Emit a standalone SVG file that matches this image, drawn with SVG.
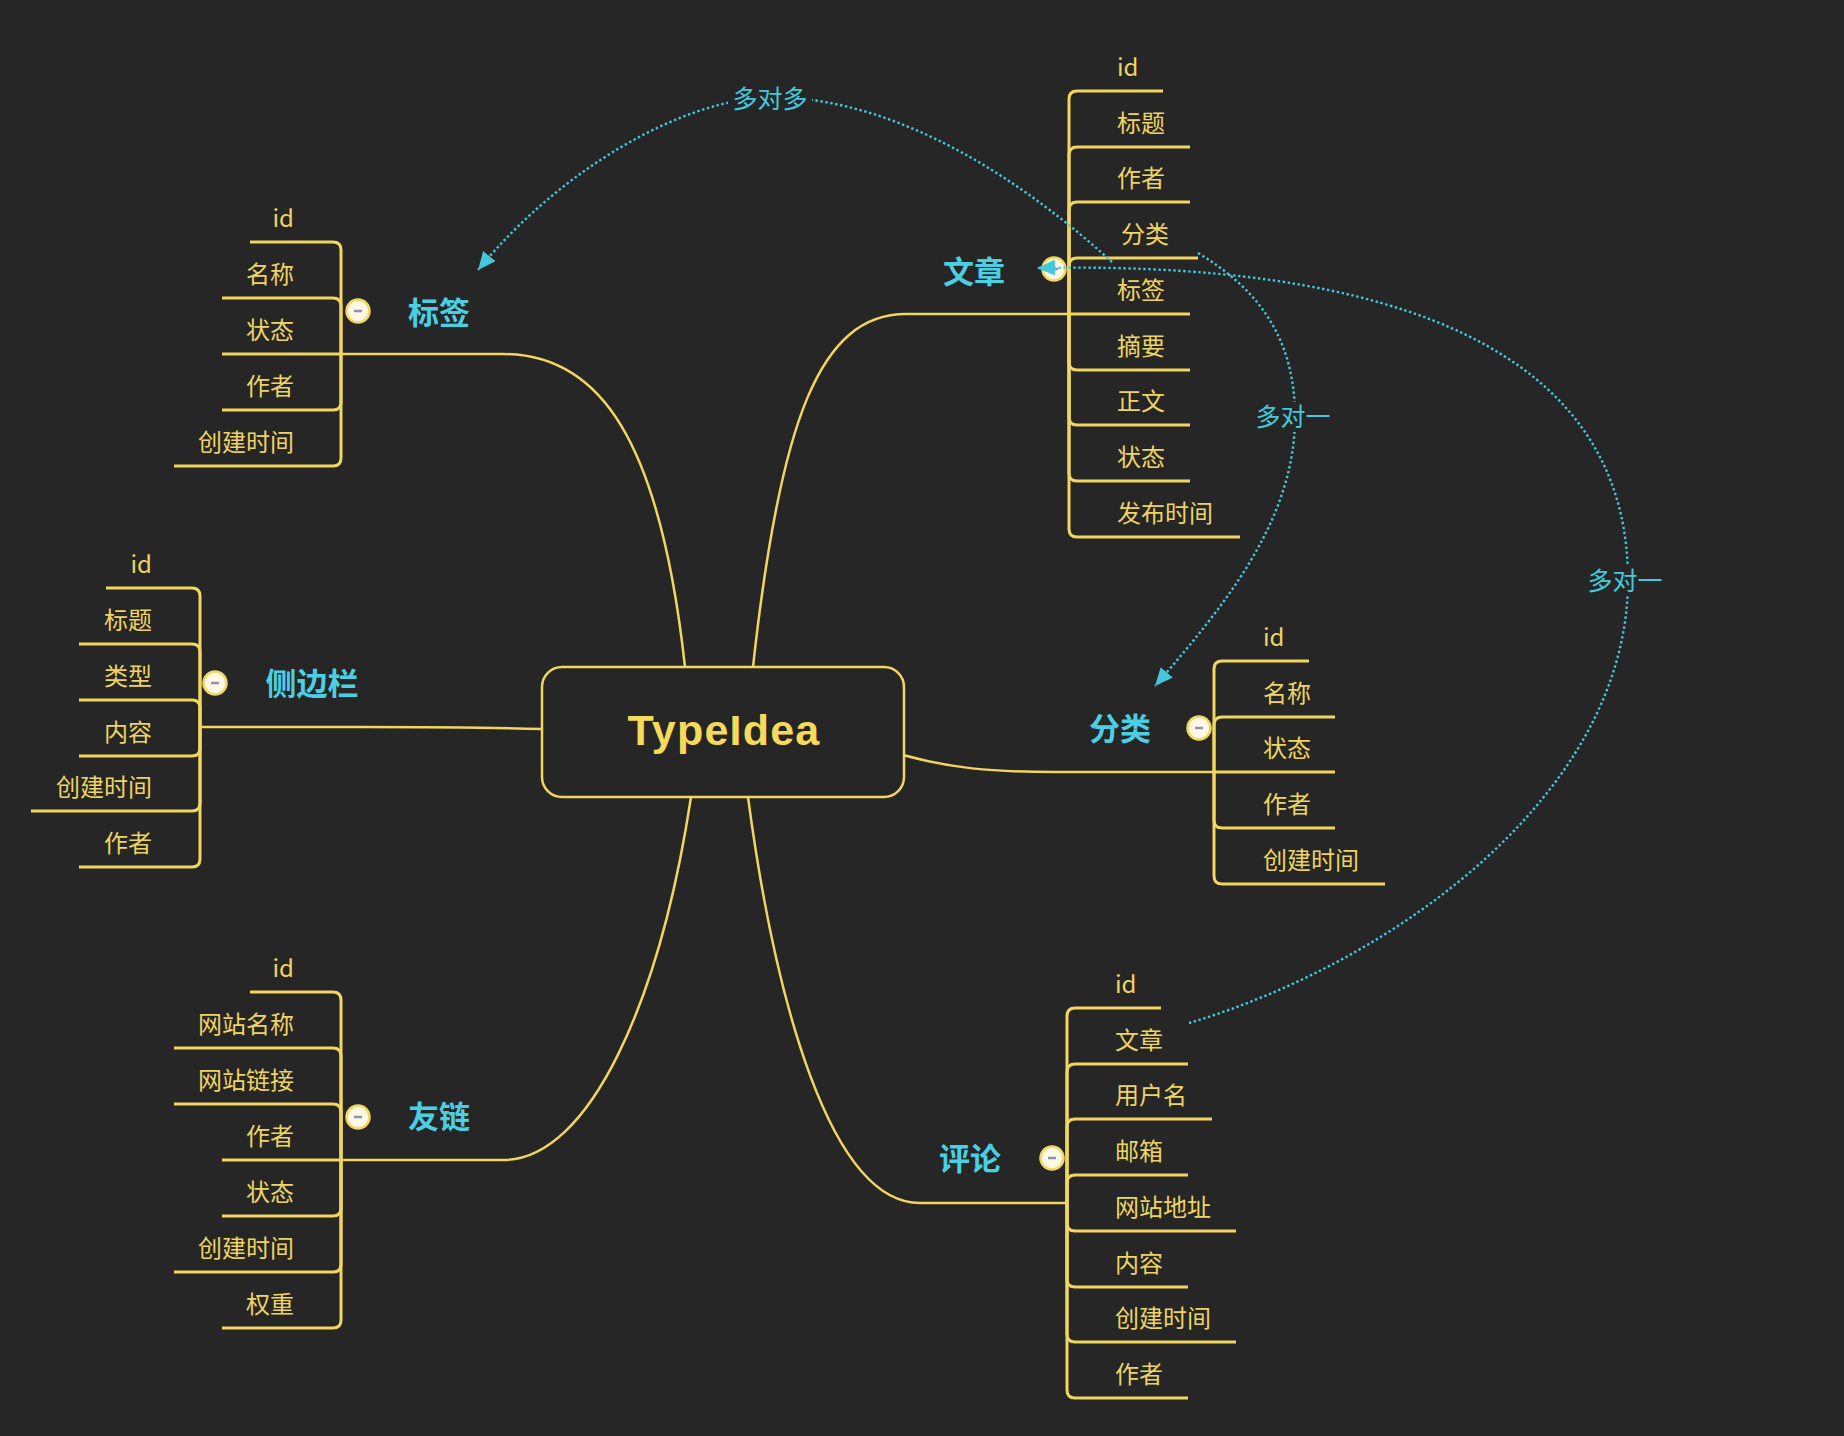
<svg xmlns="http://www.w3.org/2000/svg" width="1844" height="1436" viewBox="0 0 1844 1436">
<defs>
<style>
.ln{fill:none;stroke:#F2D660;stroke-width:2.5;stroke-linecap:round}
.ul{fill:none;stroke:#F2D660;stroke-width:3}
.it{font-family:"Noto Sans CJK SC","Liberation Sans",sans-serif;font-size:24px;fill:#EED463}
.lb{font-family:"Noto Sans CJK SC","Liberation Sans",sans-serif;font-size:31px;font-weight:700;fill:#4ACFE3}
.rl{fill:none;stroke:#45C8DD;stroke-width:2.4;stroke-dasharray:2.4 2.6}
.rt{font-family:"Noto Sans CJK SC","Liberation Sans",sans-serif;font-size:25px;fill:#45C8DD}
.tg circle{fill:#FFF9E3;stroke:#F2D660;stroke-width:2.5}
.tg line{stroke:#8A92B8;stroke-width:2.5}
</style>
<marker id="ah" markerUnits="userSpaceOnUse" markerWidth="20" markerHeight="16" refX="18" refY="8" orient="auto">
<path d="M0,0 L18,8 L0,16 Z" fill="#45C8DD"/>
</marker>
</defs>
<rect width="1844" height="1436" fill="#262626"/>

<g id="connectors">
<path class="ln" d="M685,667 C660,440 600,354 503,354 L341,354"/>
<path class="ln" d="M753,667 C780,420 820,314 906,314 L1069,314"/>
<path class="ln" d="M542,729 C480,727 420,727 360,727 L200,727"/>
<path class="ln" d="M903,755 C950,768 990,772 1054,772 L1214,772"/>
<path class="ln" d="M691,797 C660,1000 590,1160 503,1160 L341,1160"/>
<path class="ln" d="M748,797 C775,1000 830,1203 920,1203 L1067,1203"/>
</g>

<g id="center">
<rect x="542" y="667" width="362" height="130" rx="20" fill="#262626" stroke="#F2D660" stroke-width="2.5"/>
<text x="724" y="745" text-anchor="middle" font-family="Liberation Sans, Arial, sans-serif" font-size="43" font-weight="700" letter-spacing="1.2" fill="#F6DA5A">TypeIdea</text>
</g>

<g id="node-biaoqian">
<path class="ul" d="M341,354 L341,250 Q341,242 333,242 L250,242"/>
<path class="ul" d="M341,354 L341,306 Q341,298 333,298 L222,298"/>
<path class="ul" d="M341,354 L222,354"/>
<path class="ul" d="M341,354 L341,402 Q341,410 333,410 L222,410"/>
<path class="ul" d="M341,354 L341,458 Q341,466 333,466 L174,466"/>
<g class="it" text-anchor="end">
<text x="294" y="227">id</text>
<text x="294" y="283">名称</text>
<text x="294" y="339">状态</text>
<text x="294" y="395">作者</text>
<text x="294" y="451">创建时间</text>
</g>
<g class="tg"><circle cx="358" cy="311" r="11.5"/><line x1="354" y1="311" x2="362" y2="311"/></g>
<text class="lb" x="439" y="324" text-anchor="middle">标签</text>
</g>

<g id="node-wenzhang">
<path class="ul" d="M1069,314 L1069,99 Q1069,91 1077,91 L1163,91"/>
<path class="ul" d="M1069,314 L1069,155 Q1069,147 1077,147 L1190,147"/>
<path class="ul" d="M1069,314 L1069,210 Q1069,202 1077,202 L1190,202"/>
<path class="ul" d="M1069,314 L1069,266 Q1069,258 1077,258 L1198,258"/>
<path class="ul" d="M1069,314 L1190,314"/>
<path class="ul" d="M1069,314 L1069,362 Q1069,370 1077,370 L1190,370"/>
<path class="ul" d="M1069,314 L1069,417 Q1069,425 1077,425 L1190,425"/>
<path class="ul" d="M1069,314 L1069,473 Q1069,481 1077,481 L1190,481"/>
<path class="ul" d="M1069,314 L1069,529 Q1069,537 1077,537 L1240,537"/>
<g class="it">
<text x="1117" y="76">id</text>
<text x="1117" y="132">标题</text>
<text x="1117" y="187">作者</text>
<text x="1121" y="243">分类</text>
<text x="1117" y="299">标签</text>
<text x="1117" y="355">摘要</text>
<text x="1117" y="410">正文</text>
<text x="1117" y="466">状态</text>
<text x="1117" y="522">发布时间</text>
</g>
<g class="tg"><circle cx="1054" cy="269" r="11.5"/><line x1="1050" y1="269" x2="1058" y2="269"/></g>
<text class="lb" x="974" y="283" text-anchor="middle">文章</text>
</g>

<g id="node-cebianlan">
<path class="ul" d="M200,727 L200,596 Q200,588 192,588 L106,588"/>
<path class="ul" d="M200,727 L200,652 Q200,644 192,644 L79,644"/>
<path class="ul" d="M200,727 L200,708 Q200,700 192,700 L79,700"/>
<path class="ul" d="M200,727 L200,748 Q200,756 192,756 L79,756"/>
<path class="ul" d="M200,727 L200,803 Q200,811 192,811 L31,811"/>
<path class="ul" d="M200,727 L200,859 Q200,867 192,867 L79,867"/>
<g class="it" text-anchor="end">
<text x="152" y="573">id</text>
<text x="152" y="629">标题</text>
<text x="152" y="685">类型</text>
<text x="152" y="741">内容</text>
<text x="152" y="796">创建时间</text>
<text x="152" y="852">作者</text>
</g>
<g class="tg"><circle cx="215" cy="683" r="11.5"/><line x1="211" y1="683" x2="219" y2="683"/></g>
<text class="lb" x="312" y="695" text-anchor="middle">侧边栏</text>
</g>

<g id="node-fenlei">
<path class="ul" d="M1214,772 L1214,669 Q1214,661 1222,661 L1309,661"/>
<path class="ul" d="M1214,772 L1214,725 Q1214,717 1222,717 L1335,717"/>
<path class="ul" d="M1214,772 L1335,772"/>
<path class="ul" d="M1214,772 L1214,820 Q1214,828 1222,828 L1335,828"/>
<path class="ul" d="M1214,772 L1214,876 Q1214,884 1222,884 L1385,884"/>
<g class="it">
<text x="1263" y="646">id</text>
<text x="1263" y="702">名称</text>
<text x="1263" y="757">状态</text>
<text x="1263" y="813">作者</text>
<text x="1263" y="869">创建时间</text>
</g>
<g class="tg"><circle cx="1199" cy="728" r="11.5"/><line x1="1195" y1="728" x2="1203" y2="728"/></g>
<text class="lb" x="1120" y="740" text-anchor="middle">分类</text>
</g>

<g id="node-pinglun">
<path class="ul" d="M1067,1203 L1067,1016 Q1067,1008 1075,1008 L1161,1008"/>
<path class="ul" d="M1067,1203 L1067,1072 Q1067,1064 1075,1064 L1188,1064"/>
<path class="ul" d="M1067,1203 L1067,1127 Q1067,1119 1075,1119 L1212,1119"/>
<path class="ul" d="M1067,1203 L1067,1183 Q1067,1175 1075,1175 L1188,1175"/>
<path class="ul" d="M1067,1203 L1067,1223 Q1067,1231 1075,1231 L1236,1231"/>
<path class="ul" d="M1067,1203 L1067,1279 Q1067,1287 1075,1287 L1188,1287"/>
<path class="ul" d="M1067,1203 L1067,1334 Q1067,1342 1075,1342 L1236,1342"/>
<path class="ul" d="M1067,1203 L1067,1390 Q1067,1398 1075,1398 L1188,1398"/>
<g class="it">
<text x="1115" y="993">id</text>
<text x="1115" y="1049">文章</text>
<text x="1115" y="1104">用户名</text>
<text x="1115" y="1160">邮箱</text>
<text x="1115" y="1216">网站地址</text>
<text x="1115" y="1272">内容</text>
<text x="1115" y="1327">创建时间</text>
<text x="1115" y="1383">作者</text>
</g>
<g class="tg"><circle cx="1052" cy="1158" r="11.5"/><line x1="1048" y1="1158" x2="1056" y2="1158"/></g>
<text class="lb" x="970" y="1170" text-anchor="middle">评论</text>
</g>

<g id="node-youlian">
<path class="ul" d="M341,1160 L341,1000 Q341,992 333,992 L250,992"/>
<path class="ul" d="M341,1160 L341,1056 Q341,1048 333,1048 L174,1048"/>
<path class="ul" d="M341,1160 L341,1112 Q341,1104 333,1104 L174,1104"/>
<path class="ul" d="M341,1160 L222,1160"/>
<path class="ul" d="M341,1160 L341,1208 Q341,1216 333,1216 L222,1216"/>
<path class="ul" d="M341,1160 L341,1264 Q341,1272 333,1272 L174,1272"/>
<path class="ul" d="M341,1160 L341,1320 Q341,1328 333,1328 L222,1328"/>
<g class="it" text-anchor="end">
<text x="294" y="977">id</text>
<text x="294" y="1033">网站名称</text>
<text x="294" y="1089">网站链接</text>
<text x="294" y="1145">作者</text>
<text x="294" y="1201">状态</text>
<text x="294" y="1257">创建时间</text>
<text x="294" y="1313">权重</text>
</g>
<g class="tg"><circle cx="358" cy="1117" r="11.5"/><line x1="354" y1="1117" x2="362" y2="1117"/></g>
<text class="lb" x="439" y="1128" text-anchor="middle">友链</text>
</g>

<g id="relations">
<path class="rl" d="M1112,262 C1000,160 880,97 770,97 C680,100 560,170 478,270" marker-end="url(#ah)"/>
<rect x="728" y="84" width="84" height="30" fill="#262626"/>
<text class="rt" x="770" y="108" text-anchor="middle">多对多</text>
<path class="rl" d="M1198,253 C1260,290 1295,340 1295,417 C1295,520 1225,605 1155,686" marker-end="url(#ah)"/>
<rect x="1251" y="402" width="84" height="30" fill="#262626"/>
<text class="rt" x="1293" y="426" text-anchor="middle">多对一</text>
<path class="rl" d="M1189,1023 C1400,960 1628,790 1628,580 C1628,380 1450,260 1037,268" marker-end="url(#ah)"/>
<rect x="1583" y="566" width="84" height="30" fill="#262626"/>
<text class="rt" x="1625" y="590" text-anchor="middle">多对一</text>
</g>
</svg>
